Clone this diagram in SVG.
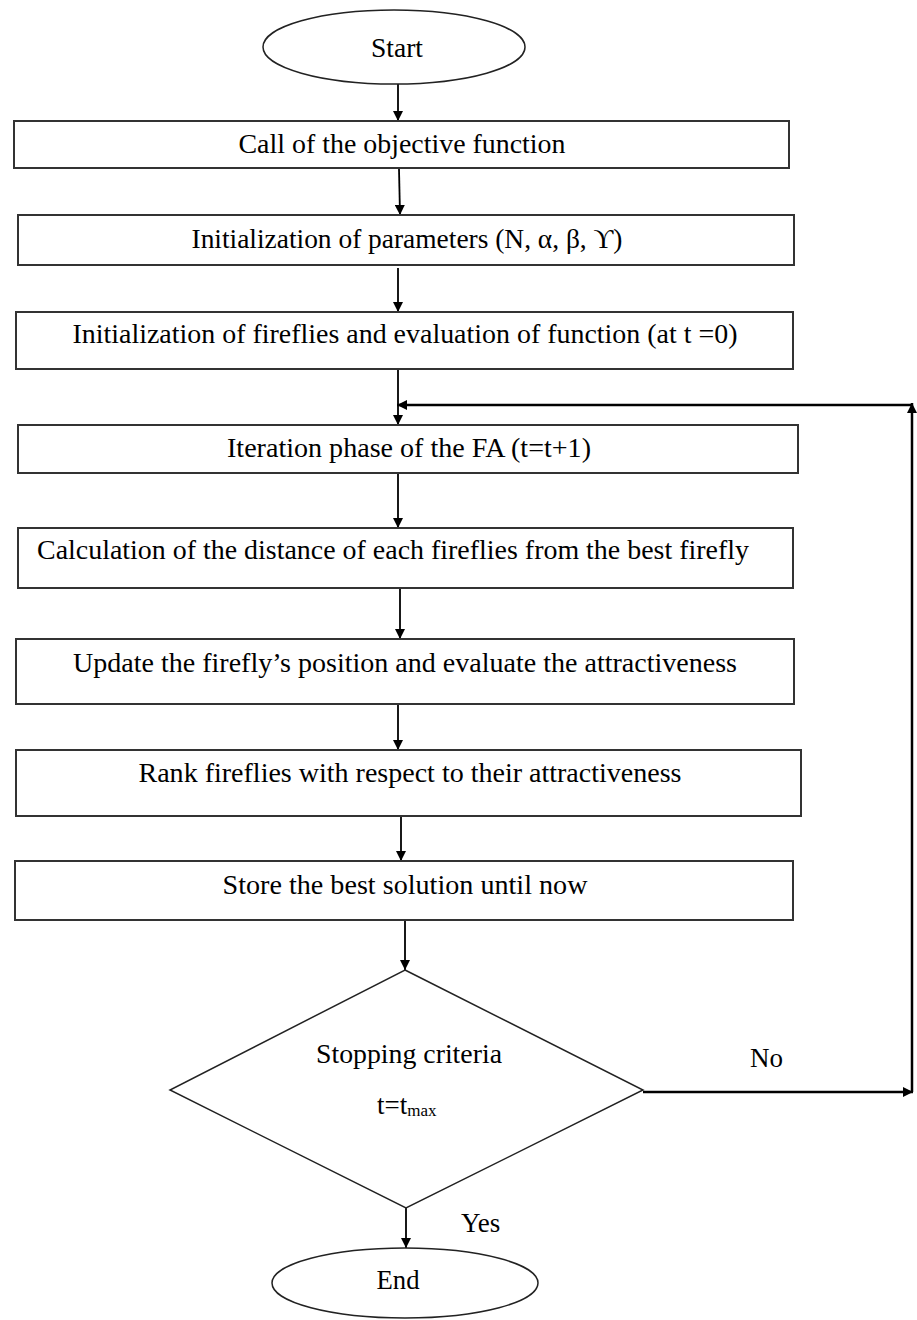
<svg xmlns="http://www.w3.org/2000/svg" width="917" height="1320" viewBox="0 0 917 1320">
<style>
.box{fill:#fff;stroke:#333;stroke-width:2}
.shape{fill:#fff;stroke:#222;stroke-width:1.5}
.t{font-family:"Liberation Serif","Times New Roman",serif;font-size:27px;fill:#000;text-anchor:middle}
.lbl{font-family:"Liberation Serif","Times New Roman",serif;font-size:27px;fill:#000}
.edge{stroke:#000;stroke-width:1.8;fill:none}
.fb{stroke:#000;stroke-width:2.5;fill:none}
</style>
<defs>
<marker id="ah" viewBox="0 0 10 10" refX="10" refY="5" markerWidth="12" markerHeight="10" markerUnits="userSpaceOnUse" orient="auto">
<path d="M0,0 L10,5 L0,10 z" fill="#000"/>
</marker>
</defs>
<rect width="917" height="1320" fill="#fff"/>
<g id="connectors">
<line class="edge" x1="398" y1="84" x2="398" y2="121" marker-end="url(#ah)"/>
<line class="edge" x1="399" y1="169" x2="400" y2="215" marker-end="url(#ah)"/>
<line class="edge" x1="398" y1="268" x2="398" y2="312" marker-end="url(#ah)"/>
<line class="edge" x1="398" y1="369" x2="398" y2="425" marker-end="url(#ah)"/>
<line class="edge" x1="398" y1="473" x2="398" y2="528" marker-end="url(#ah)"/>
<line class="edge" x1="400" y1="588" x2="400" y2="639" marker-end="url(#ah)"/>
<line class="edge" x1="398" y1="704" x2="398" y2="750" marker-end="url(#ah)"/>
<line class="edge" x1="401" y1="816" x2="401" y2="861" marker-end="url(#ah)"/>
<line class="edge" x1="405" y1="920" x2="405" y2="970" marker-end="url(#ah)"/>
<line class="edge" x1="406" y1="1208" x2="406" y2="1248" marker-end="url(#ah)"/>
<line class="fb" x1="643" y1="1092" x2="913" y2="1092" marker-end="url(#ah)"/>
<line class="fb" x1="912" y1="1092" x2="912" y2="403" marker-end="url(#ah)"/>
<line class="fb" x1="912" y1="405" x2="397" y2="405" marker-end="url(#ah)"/>
</g>
<g id="start">
<ellipse class="shape" cx="394" cy="47" rx="131" ry="37"/>
<text class="t" x="397" y="57" textLength="52" lengthAdjust="spacingAndGlyphs">Start</text>
</g>
<g id="n1">
<rect class="box" x="14" y="121" width="775" height="47"/>
<text class="t" x="402" y="153" textLength="327" lengthAdjust="spacingAndGlyphs">Call of the objective function</text>
</g>
<g id="n2">
<rect class="box" x="18" y="215" width="776" height="50"/>
<text class="t" x="407" y="248" textLength="431" lengthAdjust="spacingAndGlyphs">Initialization of parameters (N, α,  β, ϒ)</text>
</g>
<g id="n3">
<rect class="box" x="16" y="312" width="777" height="57"/>
<text class="t" x="405" y="343" textLength="665" lengthAdjust="spacingAndGlyphs">Initialization of fireflies and evaluation of function (at t =0)</text>
</g>
<g id="n4">
<rect class="box" x="18" y="425" width="780" height="48"/>
<text class="t" x="409" y="457" textLength="364" lengthAdjust="spacingAndGlyphs">Iteration phase of the FA (t=t+1)</text>
</g>
<g id="n5">
<rect class="box" x="18" y="528" width="775" height="60"/>
<text class="t" x="393" y="559" textLength="712" lengthAdjust="spacingAndGlyphs">Calculation of the distance of each fireflies from the best firefly</text>
</g>
<g id="n6">
<rect class="box" x="16" y="639" width="778" height="65"/>
<text class="t" x="405" y="672" textLength="664" lengthAdjust="spacingAndGlyphs">Update the firefly’s position and evaluate the attractiveness</text>
</g>
<g id="n7">
<rect class="box" x="16" y="750" width="785" height="66"/>
<text class="t" x="410" y="782" textLength="543" lengthAdjust="spacingAndGlyphs">Rank fireflies with respect to their attractiveness</text>
</g>
<g id="n8">
<rect class="box" x="15" y="861" width="778" height="59"/>
<text class="t" x="405" y="894" textLength="365" lengthAdjust="spacingAndGlyphs">Store the best solution until now</text>
</g>
<g id="decision">
<polygon class="shape" points="405,970 643,1090 406,1208 170,1090"/>
<text class="t" x="409" y="1063" textLength="186" lengthAdjust="spacingAndGlyphs">Stopping criteria</text>
<text class="lbl" x="377" y="1114" font-size="26">t=t<tspan font-size="17" dy="2">max</tspan></text>
</g>
<g id="end">
<ellipse class="shape" cx="405" cy="1283" rx="133" ry="35"/>
<text class="t" x="398" y="1289" textLength="43" lengthAdjust="spacingAndGlyphs">End</text>
</g>
<g id="labels">
<text class="lbl" x="750" y="1067">No</text>
<text class="lbl" x="461" y="1232">Yes</text>
</g>
</svg>
